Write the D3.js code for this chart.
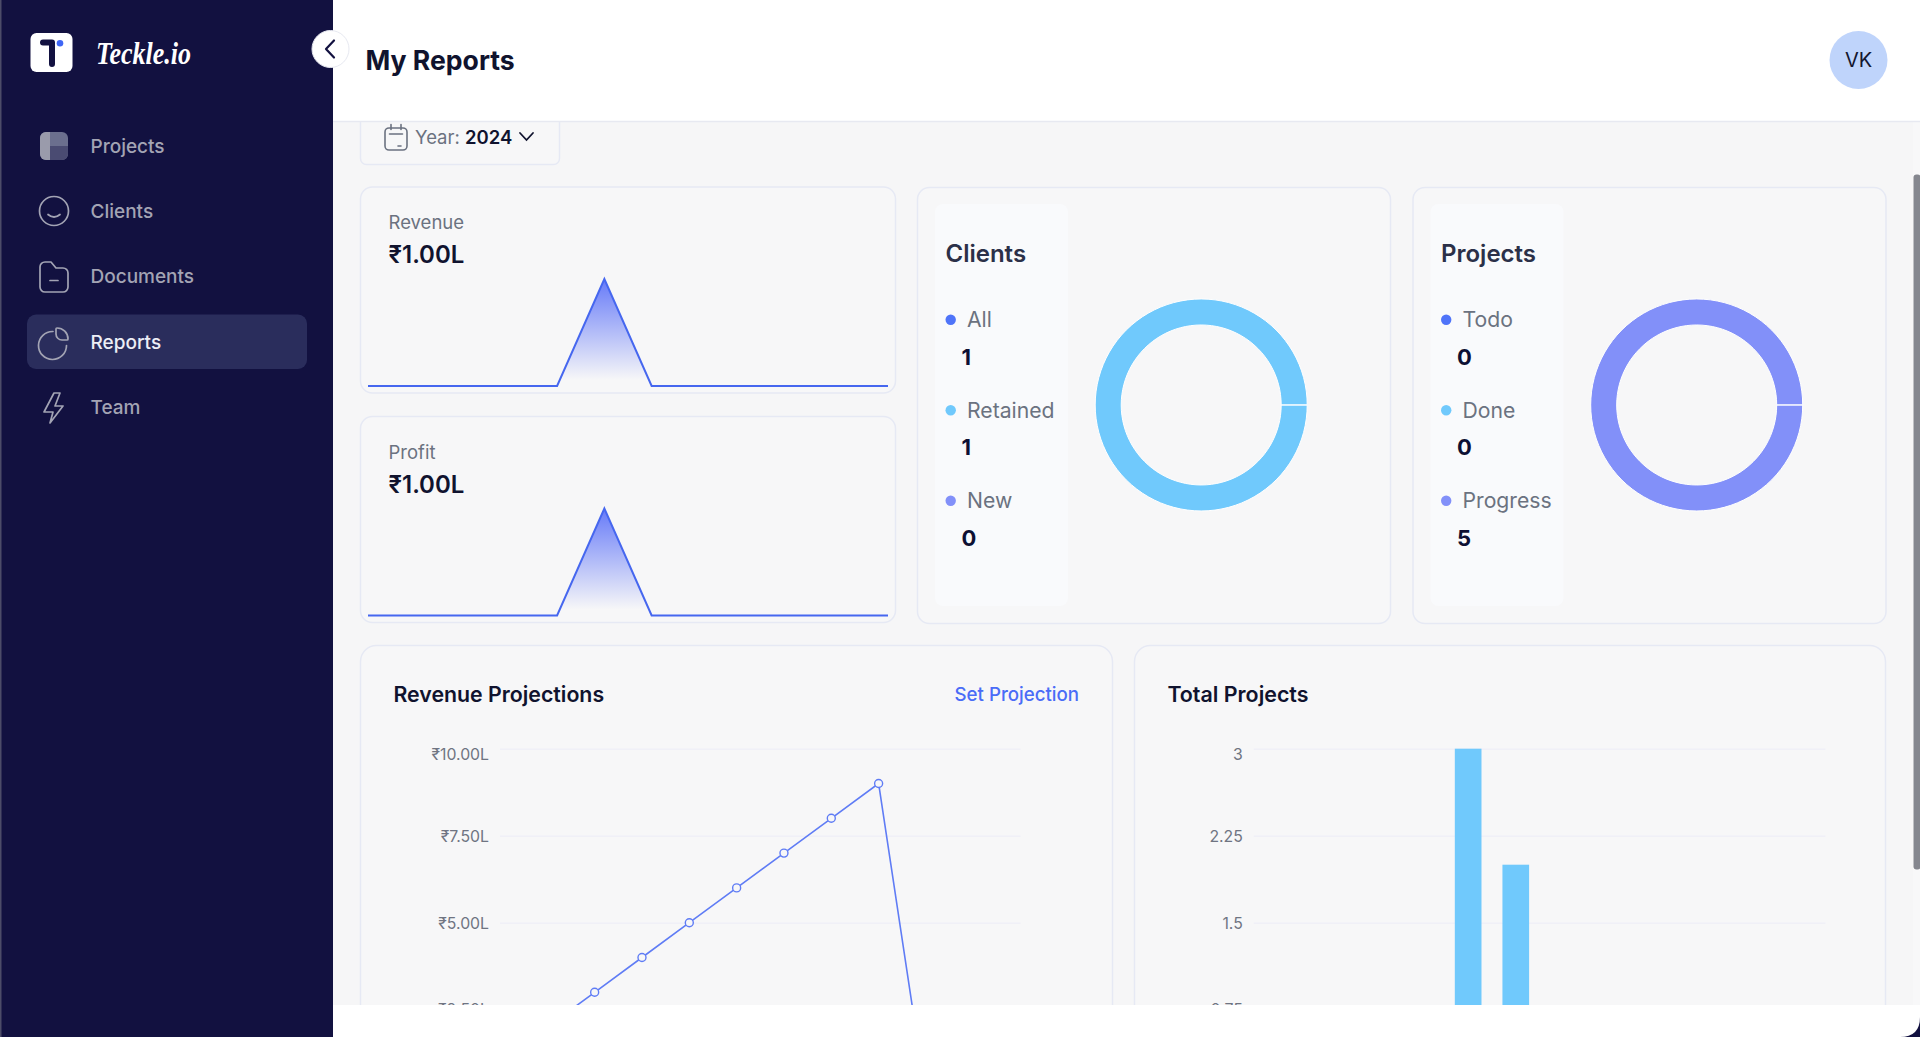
<!DOCTYPE html>
<html><head><meta charset="utf-8"><title>My Reports</title>
<script src="https://cdn.jsdelivr.net/npm/d3@7"></script>
<style>html,body{margin:0;padding:0;background:#121140;overflow:hidden}svg{display:block}text{font-family:Inter,"Noto Sans",sans-serif}</style>
</head><body><div id="app"></div>
<script>
// ---- data ----
const months = ["Jan","Feb","Mar","Apr","May","Jun","Jul","Aug","Sep","Oct","Nov","Dec"];
const revenueSpark = [0,0,0,0,0,1,0,0,0,0,0,0];
const profitSpark  = [0,0,0,0,0,1,0,0,0,0,0,0];
const revenueProjection = [1,2,3,4,5,6,7,8,9,0,0,0];
const projectTotals = [0,0,0,0,3,2,0,0,0,0,0,0];
const revenueTicks = [0,2.5,5,7.5,10];
const projectTicks = [0,0.75,1.5,2.25,3];
const clientLabels = ["All","Retained","New"];
const clientValues = [1,1,0];
const clientSlices = [0,1,0];
const projectLabels = ["Todo","Done","Progress"];
const projectValues = [0,0,5];
const projectSlices = [0,0,5];
const navLabels = ["Projects","Clients","Documents","Reports","Team"];
const legendColors = ["#4f74f9","#70c9fc","#8290f9"];

const W=1920,H=1037;
const svg=d3.select("#app").append("svg").attr("width",W).attr("height",H).attr("viewBox",`0 0 ${W} ${H}`);
const defs=svg.append("defs");
defs.append("clipPath").attr("id","mainClip").append("rect").attr("x",333).attr("y",121).attr("width",1587).attr("height",884);

const txt=(g,x,y,s,o={})=>g.append("text").attr("x",x).attr("y",y).attr("dominant-baseline","central")
  .attr("font-size",o.size||18).attr("font-weight",o.weight||400).attr("fill",o.fill||"#6b7280")
  .attr("text-anchor",o.anchor||"start").attr("letter-spacing",o.ls||null).text(s);
const card=(g,x,y,w,h,r=12)=>g.append("rect").attr("x",x+.5).attr("y",y+.5).attr("width",w).attr("height",h).attr("rx",r)
  .attr("fill","#f7f7f8").attr("stroke","#e6e9f4").attr("stroke-width",1.5);

// page background with rounded lower-right corner
svg.append("rect").attr("width",W).attr("height",H).attr("fill","#121140");
svg.append("path").attr("d",`M300 0H${W}V${H-20}Q${W} ${H} ${W-20} ${H}H300Z`).attr("fill","#ffffff");

const main=svg.append("g").attr("clip-path","url(#mainClip)");
main.append("rect").attr("x",333).attr("y",121).attr("width",1587).attr("height",884).attr("fill","#f6f6f7");

// year selector
card(main,360,90,199,74,6);
const cal=main.append("g").attr("fill","none").attr("stroke","#6b7280").attr("stroke-width",1.6).attr("stroke-linecap","round");
cal.append("rect").attr("x",385).attr("y",128).attr("width",22).attr("height",22).attr("rx",4);
cal.append("path").attr("d","M391 124.5v5M401 124.5v5M389.5 134h13M398 146h3");
const yr=txt(main,415,137,"Year: ",{size:18.5,fill:"#6b7280"});
yr.append("tspan").attr("font-weight",600).attr("fill","#10132e").text("2024");
main.append("path").attr("d","M520 133l6.5 7 6.5-7").attr("fill","none").attr("stroke","#10132e").attr("stroke-width",1.8).attr("stroke-linecap","round");

// sparkline cards
function spark(id,label,value,vals,top){
  const g=main.append("g");
  card(g,360,top,535,206,12);
  txt(g,388.5,top+35.5,label,{size:18.5,fill:"#6b7280"});
  txt(g,388.5,top+68,value,{size:24,weight:600,fill:"#10132e"});
  const x=d3.scalePoint().domain(months).range([368,888]);
  const y=d3.scaleLinear().domain([0,1]).range([top+199.5,top+92.5]);
  const gr=defs.append("linearGradient").attr("id",id).attr("gradientUnits","userSpaceOnUse")
    .attr("x1",0).attr("x2",0).attr("y1",y(1)).attr("y2",y(0)-6);
  gr.append("stop").attr("offset",0).attr("stop-color","#5f74f8").attr("stop-opacity",.95);
  gr.append("stop").attr("offset",1).attr("stop-color","#5f74f8").attr("stop-opacity",0);
  const data=vals.map((v,i)=>({m:months[i],v}));
  g.append("path").datum(data).attr("fill",`url(#${id})`)
    .attr("d",d3.area().x(d=>x(d.m)).y0(y(0)).y1(d=>y(d.v)));
  g.append("path").datum(data).attr("fill","none").attr("stroke","#4667ef").attr("stroke-width",2)
    .attr("d",d3.line().x(d=>x(d.m)).y(d=>y(d.v)));
}
spark("gradRev","Revenue","₹1.00L",revenueSpark,186.5);
spark("gradPro","Profit","₹1.00L",profitSpark,416);

// donut cards
function donut(dx,title,labels,values,slices){
  const g=main.append("g").attr("transform",`translate(${dx},0)`);
  card(g,917,187,473,436,12);
  g.append("rect").attr("x",935).attr("y",204).attr("width",133).attr("height",402).attr("rx",8).attr("fill","#f9fafc");
  txt(g,945.5,253.5,title,{size:24,weight:600,fill:"#2b3048"});
  labels.forEach((l,i)=>{
    const yy=319.7+i*90.5;
    g.append("circle").attr("cx",950.7).attr("cy",yy).attr("r",5.2).attr("fill",legendColors[i]);
    txt(g,967,yy-.6,l,{size:21.2,fill:"#6b7280"});
    txt(g,961.5,yy+37,values[i],{size:22,weight:700,fill:"#0d1033"});
  });
  const pie=d3.pie().sort(null).startAngle(Math.PI/2).endAngle(Math.PI/2+2*Math.PI-0.0006);
  const arc=d3.arc().innerRadius(80).outerRadius(106);
  g.append("g").attr("transform","translate(1201.2,405)").selectAll("path")
    .data(pie(slices).filter(d=>d.value>0)).join("path")
    .attr("d",arc).attr("fill",d=>legendColors[d.index]).attr("stroke","#fff").attr("stroke-width",1);
}
donut(0,"Clients",clientLabels,clientValues,clientSlices);
donut(495.5,"Projects",projectLabels,projectValues,projectSlices);

// lower cards
card(main,360,645,752,520,16);
card(main,1134,645,751,520,16);
txt(main,393.5,694,"Revenue Projections",{size:21.3,weight:600,fill:"#10132e"});
txt(main,954.5,694,"Set Projection",{size:18.7,weight:500,fill:"#4a6cf7"});
txt(main,1167.4,694,"Total Projects",{size:21.4,weight:600,fill:"#10132e"});

const yTop=748.7,yBottom=1096.7;
function leftAxis(scale,ticks,fmt,x0,x1){
  const g=main.append("g").attr("transform",`translate(${x0},0)`);
  g.call(d3.axisLeft(scale).tickValues(ticks).tickFormat(fmt).tickSize(x0-x1).tickPadding(0));
  g.select(".domain").remove();
  g.selectAll(".tick line").attr("stroke","#f0f0f7").attr("stroke-width",1.5);
  const top=d3.max(ticks);
  g.selectAll(".tick text").attr("x",-11).attr("fill","#6f7482").attr("font-size",15.8)
    .attr("font-family","Inter").attr("dy",d=>d===top?"0.7em":(d===ticks[1]?"0.3em":"0.36em"));
  return g;
}
// revenue line
const ly=d3.scaleLinear().domain([0,10]).range([yBottom,yTop]);
const lx=d3.scalePoint().domain(months).range([500,1020.6]);
leftAxis(ly,revenueTicks,d=>"₹"+d.toFixed(2)+"L",500,1020.6);
const lineData=revenueProjection.map((v,i)=>({m:months[i],v}));
main.append("path").datum(lineData).attr("fill","none").attr("stroke","#5f7cf5").attr("stroke-width",1.6)
  .attr("d",d3.line().x(d=>lx(d.m)).y(d=>ly(d.v)));
main.append("g").selectAll("circle").data(lineData).join("circle")
  .attr("cx",d=>lx(d.m)).attr("cy",d=>ly(d.v)).attr("r",4)
  .attr("fill","#f7f7f8").attr("stroke","#5f7cf5").attr("stroke-width",1.4);
// projects bar
const by=d3.scaleLinear().domain([0,3]).range([yBottom,yTop]);
const bx=d3.scaleBand().domain(months).range([1253.8,1825.4]).paddingInner(.44).paddingOuter(.22);
leftAxis(by,projectTicks,d=>String(d),1253.8,1825.4);
const barData=projectTotals.map((v,i)=>({m:months[i],v})).filter(d=>d.v>0);
main.append("g").selectAll("rect").data(barData).join("rect")
  .attr("x",d=>bx(d.m)).attr("width",bx.bandwidth()).attr("y",d=>by(d.v)).attr("height",d=>by(0)-by(d.v)).attr("fill","#70c9fc");

// scrollbar
main.append("rect").attr("x",1913).attr("y",121).attr("width",7).attr("height",884).attr("fill","#f8f8f9");
main.append("rect").attr("x",1913.5).attr("y",174.5).attr("width",7).attr("height",695).attr("rx",3).attr("fill","#85878f");

// header
svg.append("rect").attr("x",333).attr("y",0).attr("width",1587).attr("height",121).attr("fill","#fff");
svg.append("line").attr("x1",333).attr("x2",1920).attr("y1",121.5).attr("y2",121.5).attr("stroke","#e7e9f1").attr("stroke-width",1.5);
txt(svg,365.5,59.5,"My Reports",{size:26.6,weight:700,fill:"#10132e"});
svg.append("circle").attr("cx",1858.5).attr("cy",60).attr("r",29).attr("fill","#bfd4fb");
txt(svg,1858.5,60,"VK",{size:20,anchor:"middle",fill:"#14172f"});

// sidebar
svg.append("rect").attr("width",333).attr("height",H).attr("fill","#121140");
svg.append("rect").attr("width",1.5).attr("height",H).attr("fill","#4c4c68");
const logo=svg.append("g");
logo.append("rect").attr("x",30.5).attr("y",33).attr("width",42).attr("height",39).attr("rx",6).attr("fill","#fff");
logo.append("path").attr("d","M43 42.5H52V64").attr("fill","none").attr("stroke","#121140").attr("stroke-width",6).attr("stroke-linecap","round").attr("stroke-linejoin","round");
logo.append("circle").attr("cx",60).attr("cy",43.3).attr("r",3.3).attr("fill","#3f66f5");
svg.append("text").attr("x",96).attr("y",64).attr("font-size",31).attr("font-weight",700).attr("font-style","italic")
  .attr("fill","#fff").style("font-family","'Liberation Serif',serif").attr("textLength",95).attr("lengthAdjust","spacingAndGlyphs").text("Teckle.io");
// collapse button
svg.append("circle").attr("cx",330.5).attr("cy",49).attr("r",18.5).attr("fill","#fff").attr("stroke","#e7e9f1");
svg.append("path").attr("d","M334 40.5L326 49L334 57.5").attr("fill","none").attr("stroke","#121140").attr("stroke-width",2.2).attr("stroke-linecap","round").attr("stroke-linejoin","round");
// active nav pill
svg.append("rect").attr("x",27).attr("y",314.5).attr("width",280).attr("height",54.5).attr("rx",9).attr("fill","#2a2d5c");
const navY=[146,211,276.7,342,407];
navLabels.forEach((l,i)=>txt(svg,90.5,navY[i],l,{size:19,weight:500,fill:l==="Reports"?"#eceef6":"#a3a4b4"}));
const ic=svg.append("g").attr("fill","none").attr("stroke","#a3a4b4").attr("stroke-width",1.7).attr("stroke-linecap","round").attr("stroke-linejoin","round");
// Projects icon
const pi=svg.append("g");
pi.append("rect").attr("x",40).attr("y",132).attr("width",28).attr("height",28).attr("rx",6).attr("fill","#6b6f8e");
pi.append("path").attr("d","M50 132H46a6 6 0 0 0-6 6V154a6 6 0 0 0 6 6H50Z").attr("fill","#9a9bab");
pi.append("path").attr("d","M50 146H68V154a6 6 0 0 1-6 6H50Z").attr("fill","#4a4b72");
// Clients
ic.append("circle").attr("cx",54).attr("cy",211).attr("r",14.5);
ic.append("path").attr("d","M48 214.5Q54 219.5 60 214.5");
// Documents
ic.append("path").attr("d","M40 267a5 5 0 0 1 5-5h6l5 6h7a5 5 0 0 1 5 5v14a5 5 0 0 1-5 5H45a5 5 0 0 1-5-5ZM50 280.5h8");
// Reports
ic.append("path").attr("d","M53 331.5a14 14 0 1 0 13.5 14");
ic.append("path").attr("d","M56 329v5a6 6 0 0 0 6 6h5a1 1 0 0 0 1-1a11 11 0 0 0-11-11a1 1 0 0 0-1 1Z");
// Team
ic.append("path").attr("d","M54 393L44 412h9l-3 11 13-17h-8l5-13Z");
</script></body></html>
